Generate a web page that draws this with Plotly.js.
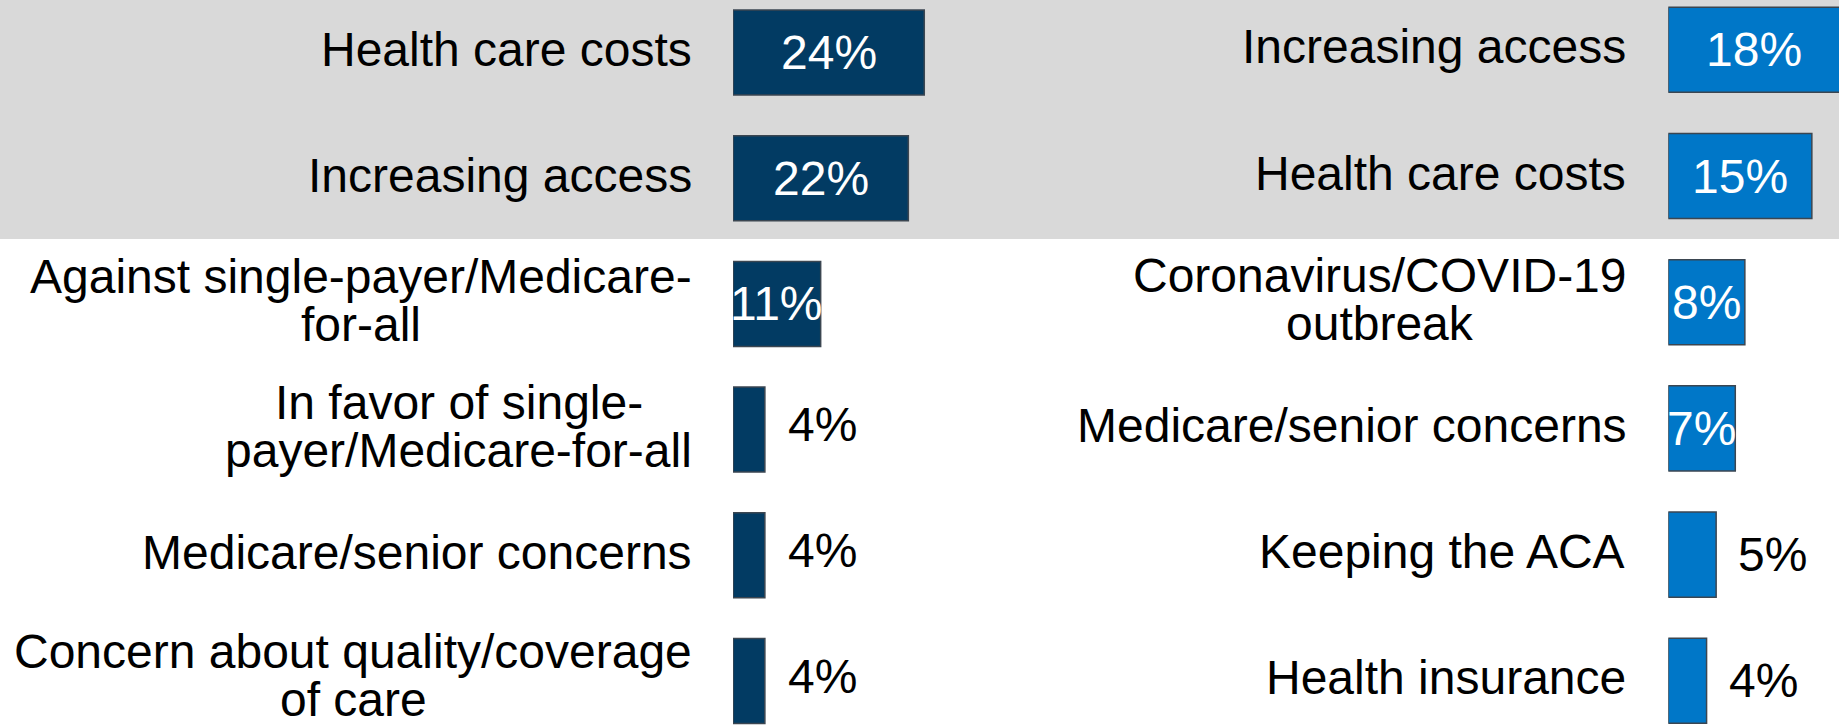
<!DOCTYPE html>
<html>
<head>
<meta charset="utf-8">
<script src="https://cdn.plot.ly/plotly-3.0.1.min.js"></script>
<style>
  html, body { margin: 0; padding: 0; background: #ffffff; }
  #chart { width: 1839px; height: 727px; }
</style>
</head>
<body>
<div id="chart"></div>
<script>
// ---- data ----
const leftLabels = [
  "Health care costs",
  "Increasing access",
  "Against single-payer/Medicare-\nfor-all",
  "In favor of single-\npayer/Medicare-for-all",
  "Medicare/senior concerns",
  "Concern about quality/coverage\nof care"
];
const leftValues = [24, 22, 11, 4, 4, 4];

const rightLabels = [
  "Increasing access",
  "Health care costs",
  "Coronavirus/COVID-19\noutbreak",
  "Medicare/senior concerns",
  "Keeping the ACA",
  "Health insurance"
];
const rightValues = [18, 15, 8, 7, 5, 4];

// ---- styling ----
const W = 1839, H = 727;
const FONT = "'Liberation Sans', Arial, sans-serif";
const FS = 48;
const LINE_H = 48;
const leftColor = "#023B63";
const rightColor = "#0077C8";
const outline = "#3B4651";

const ctx = document.createElement("canvas").getContext("2d");
ctx.font = FS + "px 'Liberation Sans', Arial, sans-serif";
function textW(s) { return ctx.measureText(s).width; }

const idx = leftValues.map((_, i) => i);

// left panel: zero at 733px, ~7.97 px per %
const lx0 = 733, lpx = 7.97, lx1 = 1100;
// right panel: zero at 1668px, ~9.57 px per %
const rx0 = 1668.3, rpx = 9.57;
const lPitch = 125.7, lTop = 52.5;
const rPitch = 126.2, rTop = 49.8;

function panelAnnotations(labels, values, xref, yref, labelGap, outsideShift, outsideY, top, pitch) {
  const anns = [];
  labels.forEach((lab, i) => {
    const lines = lab.split("\n");
    const maxW = Math.max(...lines.map(textW));
    // shift the whole block up if its last line would leave the figure
    const lastShift = 3 - ((lines.length - 1) / 2) * LINE_H;
    const lastCenter = top + i * pitch - lastShift;
    const blockLift = Math.max(0, lastCenter + 28 - H);
    lines.forEach((ln, j) => {
      const ys = 3 + blockLift - (j - (lines.length - 1) / 2) * LINE_H;
      anns.push({
        xref: xref, yref: yref, x: 0, y: i,
        xanchor: "center", yanchor: "middle",
        xshift: -labelGap - maxW / 2,
        yshift: ys,
        text: ln, showarrow: false,
        font: { family: FONT, size: FS, color: "#000000" }
      });
    });
  });
  values.forEach((v, i) => {
    const inside = v >= 6;
    anns.push({
      xref: xref, yref: yref,
      x: inside ? v / 2 : v, y: i,
      xanchor: inside ? "center" : "left", yanchor: "middle",
      xshift: inside ? 0 : outsideShift,
      yshift: inside ? 0 : outsideY,
      text: v + "%", showarrow: false,
      font: { family: FONT, size: FS, color: inside ? "#ffffff" : "#000000" }
    });
  });
  return anns;
}

const traces = [
  {
    type: "bar", orientation: "h",
    x: leftValues, y: idx,
    xaxis: "x", yaxis: "y",
    width: 0.676,
    marker: { color: leftColor, line: { color: outline, width: 1.5 } },
    hoverinfo: "skip", showlegend: false
  },
  {
    type: "bar", orientation: "h",
    x: rightValues, y: idx,
    xaxis: "x2", yaxis: "y2",
    width: 0.674,
    marker: { color: rightColor, line: { color: outline, width: 1.5 } },
    hoverinfo: "skip", showlegend: false
  }
];

const hiddenAxis = { showgrid: false, zeroline: false, showticklabels: false, showline: false, ticks: "", fixedrange: true };

const layout = {
  width: W, height: H,
  margin: { l: 0, r: 0, t: 0, b: 0 },
  paper_bgcolor: "#ffffff",
  plot_bgcolor: "rgba(0,0,0,0)",
  showlegend: false,
  xaxis: Object.assign({}, hiddenAxis, {
    domain: [lx0 / W, lx1 / W], range: [0, (lx1 - lx0) / lpx], anchor: "y"
  }),
  yaxis: Object.assign({}, hiddenAxis, {
    domain: [0, 1], anchor: "x",
    range: [(-lTop + H) / lPitch, -lTop / lPitch]
  }),
  xaxis2: Object.assign({}, hiddenAxis, {
    domain: [rx0 / W, 1], range: [0, (W - rx0) / rpx], anchor: "y2"
  }),
  yaxis2: Object.assign({}, hiddenAxis, {
    domain: [0, 1], anchor: "x2",
    range: [(-rTop + H) / rPitch, -rTop / rPitch]
  }),
  shapes: [{
    type: "rect", xref: "paper", yref: "paper",
    x0: 0, x1: 1, y0: 1 - 239 / H, y1: 1,
    fillcolor: "#D9D9D9", line: { width: 0 }, layer: "below"
  }],
  annotations: panelAnnotations(leftLabels, leftValues, "x", "y", 41, 21, 5, lTop, lPitch)
    .concat(panelAnnotations(rightLabels, rightValues, "x2", "y2", 42, 20, 0, rTop, rPitch))
};

Plotly.newPlot("chart", traces, layout, { staticPlot: true, displayModeBar: false });
</script>
</body>
</html>
